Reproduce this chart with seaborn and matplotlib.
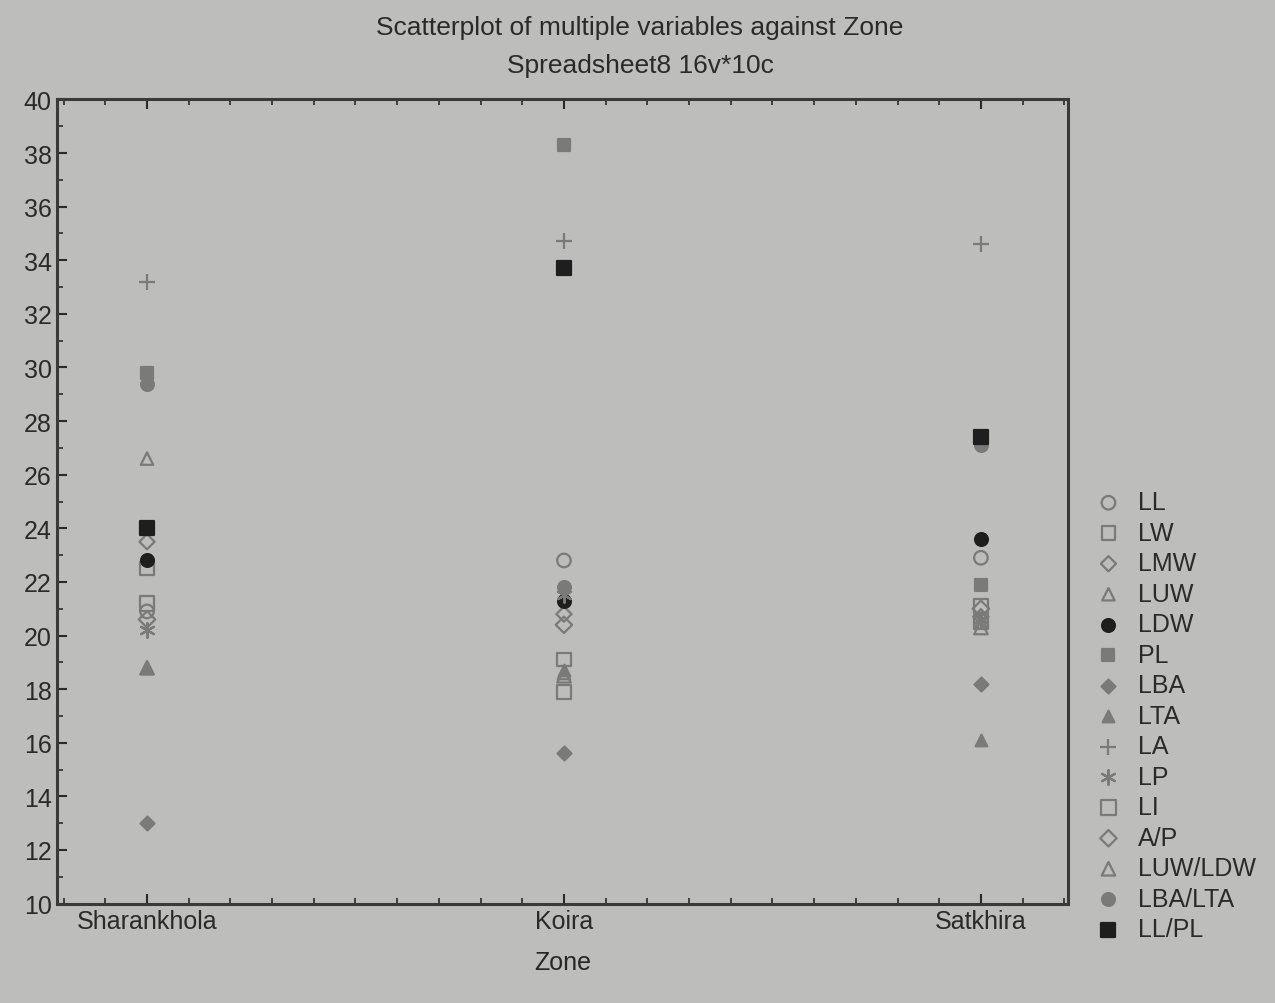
import pandas as pd
import matplotlib.pyplot as plt
import seaborn as sns
from matplotlib.ticker import MultipleLocator

# Zones on the x axis
zones = ['Sharankhola', 'Koira', 'Satkhira']

# Values, one list per variable (Sharankhola, Koira, Satkhira)
LL = [20.9, 22.8, 22.9]
LW = [22.5, 19.1, 21.1]
LMW = [23.5, 20.8, 20.7]
LUW = [26.6, 18.6, 20.5]
LDW = [22.8, 21.3, 23.6]
PL = [29.8, 38.3, 21.9]
LBA = [13.0, 15.6, 18.2]
LTA = [18.8, 18.7, 16.1]
LA = [33.2, 34.7, 34.6]
LP = [20.2, 21.5, 20.6]
LI = [21.2, 17.9, 20.5]
AP = [20.6, 20.4, 21.0]
LUW_LDW = [18.8, 18.5, 20.3]
LBA_LTA = [29.4, 21.8, 27.1]
LL_PL = [24.0, 33.7, 27.4]

variables = ['LL', 'LW', 'LMW', 'LUW', 'LDW', 'PL', 'LBA', 'LTA', 'LA',
             'LP', 'LI', 'A/P', 'LUW/LDW', 'LBA/LTA', 'LL/PL']
values = [LL, LW, LMW, LUW, LDW, PL, LBA, LTA, LA,
          LP, LI, AP, LUW_LDW, LBA_LTA, LL_PL]

df = pd.DataFrame({
    'Zone': zones * len(variables),
    'Value': [v for vals in values for v in vals],
    'Variable': [name for name in variables for _ in zones],
})

GRAY = '#7a7a7a'
DARK = '#1e1e1e'
BG = '#bdbdbb'

# marker, face, edge, size
styles = {
    'LL': ('o', 'none', GRAY, 95),
    'LW': ('s', 'none', GRAY, 95),
    'LMW': ('D', 'none', GRAY, 60),
    'LUW': ('^', 'none', GRAY, 80),
    'LDW': ('o', DARK, DARK, 85),
    'PL': ('s', GRAY, GRAY, 85),
    'LBA': ('D', GRAY, GRAY, 50),
    'LTA': ('^', GRAY, GRAY, 70),
    'LA': ('+', None, GRAY, 120),
    'LP': ((6, 2, 0), None, GRAY, 110),
    'LI': ('s', 'none', GRAY, 110),
    'A/P': ('D', 'none', GRAY, 70),
    'LUW/LDW': ('^', 'none', GRAY, 95),
    'LBA/LTA': ('o', GRAY, GRAY, 85),
    'LL/PL': ('s', DARK, DARK, 95),
}

sns.set_theme(style='ticks', rc={'axes.facecolor': BG, 'figure.facecolor': BG,
                                 'axes.edgecolor': '#3a3a3a', 'text.color': '#2a2a2a',
                                 'xtick.color': '#2a2a2a', 'ytick.color': '#2a2a2a'})
plt.rcParams['font.family'] = ['Liberation Sans', 'DejaVu Sans']

fig = plt.figure(figsize=(12.75, 10.04), dpi=100)
ax = fig.add_axes([0.045, 0.099, 0.793, 0.801])

for name in variables:
    sub = df[df['Variable'] == name]
    marker, fc, ec, size = styles[name]
    if fc is None:
        sns.scatterplot(data=sub, x='Zone', y='Value', marker=marker, color=ec,
                        s=size, linewidth=1.6, label=name, ax=ax)
    else:
        sns.scatterplot(data=sub, x='Zone', y='Value', marker=marker, facecolor=fc,
                        edgecolor=ec, s=size, linewidth=1.6, label=name, ax=ax)

ax.set_xlim(-0.215, 2.21)
ax.set_ylim(10, 40)
ax.yaxis.set_major_locator(MultipleLocator(2))
ax.yaxis.set_minor_locator(MultipleLocator(1))
ax.xaxis.set_minor_locator(MultipleLocator(0.1))
ax.tick_params(which='both', direction='in', top=True, right=False)
ax.tick_params(which='major', length=7, width=1.5, labelsize=18, pad=4)
ax.tick_params(which='minor', length=4, width=1.2)
for s in ax.spines.values():
    s.set_linewidth(2.2)

ax.set_xlabel('Zone', fontsize=18, labelpad=12)
ax.set_ylabel('')

fig.text(0.502, 0.972, 'Scatterplot of multiple variables against Zone',
         ha='center', va='center', fontsize=19)
fig.text(0.502, 0.934, 'Spreadsheet8 16v*10c', ha='center', va='center', fontsize=19)

ax.legend(loc='upper left', bbox_to_anchor=(1.0, 0.545), frameon=False,
          fontsize=18, labelspacing=0.26, handletextpad=0.6, handlelength=1.2,
          borderaxespad=0.6)

fig.savefig('out.png', dpi=100, facecolor=BG)
